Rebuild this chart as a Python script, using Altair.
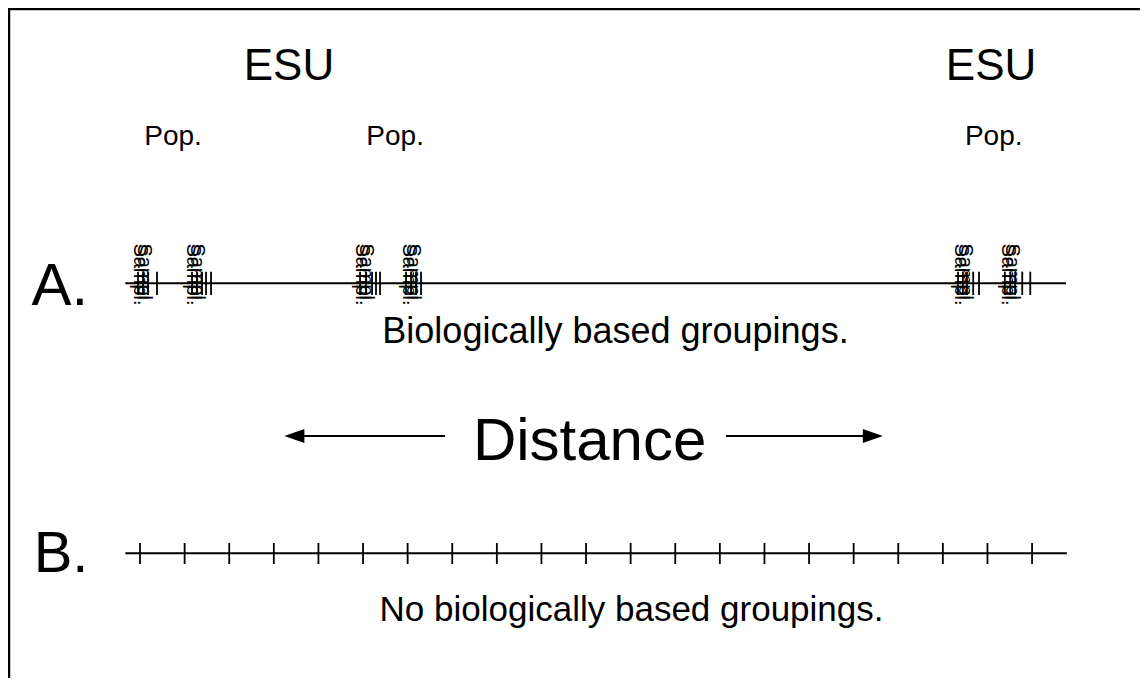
import altair as alt
import pandas as pd

W, H = 1132, 670
X_DOMAIN = [-2.96, 22.42]  # distance units (B ticks at 0..20)
Y_DOMAIN = [670, 0]        # vertical layout units, top = 0
FONT = "Liberation Sans"

# Horizontal lines A and B
line_names = ["A", "B"]
line_y = [275.3, 545.3]
line_x0 = [-0.33, -0.33]
line_x1 = [20.76, 20.78]

# Sample ticks on line A (clustered)
a_ticks_x = [-0.045, 0.067, 0.179, 0.381,
             1.166, 1.278, 1.390, 1.480, 1.592,
             4.933, 5.067, 5.202, 5.291, 5.381,
             5.964, 6.076, 6.188, 6.300,
             18.34, 18.45, 18.54, 18.68, 18.81,
             19.39, 19.51, 19.62, 19.78, 19.96]
a_tick_y = [263.7, 287.0]

# Sample labels on line A (overlapping labels in each cluster)
sampl_x = [0.00, 0.10, 1.19, 1.28, 4.98, 5.07, 6.03, 6.12,
           18.40, 18.49, 19.47, 19.56]
sampl_y = 266.5

# Evenly spaced ticks on line B
b_ticks_x = list(range(21))
b_tick_y = [535.0, 556.0]

# Text labels
label_text = ["ESU", "ESU", "Pop.", "Pop.", "Pop.", "A.",
              "Biologically based groupings.", "Distance", "B.",
              "No biologically based groupings."]
label_x = [3.34, 19.08, 0.74, 5.72, 19.14, -1.80, 10.66, 10.08, -1.77, 11.02]
label_y = [72, 72, 137, 137, 137, 297, 335, 452, 564, 613]
label_size = [44, 44, 28, 28, 28, 60, 36, 60, 58, 35]

# Distance arrows
arrow_x0 = [3.40, 13.14]
arrow_x1 = [6.84, 16.48]
arrow_y = 428
head_x = [3.46, 16.43]
head_shape = ["M -1 0 L 1 -0.7 L 1 0.7 Z", "M 1 0 L -1 -0.7 L -1 0.7 Z"]

# Frame (top and left edges)
frame_x0 = [-2.96, -2.938]
frame_x1 = [22.42, -2.938]
frame_y0 = [1, 0]
frame_y1 = [1, 670]

xs = alt.Scale(domain=X_DOMAIN, nice=False, zero=False)
ys = alt.Scale(domain=Y_DOMAIN, nice=False, zero=False)
NOAX = None

def X(f):
    return alt.X(f, type="quantitative", scale=xs, axis=NOAX)

def Y(f):
    return alt.Y(f, type="quantitative", scale=ys, axis=NOAX)

lines_df = pd.DataFrame({"name": line_names, "y": line_y, "x0": line_x0, "x1": line_x1})
lines = alt.Chart(lines_df).mark_rule(color="black", strokeWidth=2).encode(
    x=X("x0"), x2="x1", y=Y("y"))

a_df = pd.DataFrame({"x": a_ticks_x, "y0": a_tick_y[0], "y1": a_tick_y[1]})
a_ticks = alt.Chart(a_df).mark_rule(color="black", strokeWidth=1.8).encode(
    x=X("x"), y=Y("y0"), y2="y1")

b_df = pd.DataFrame({"x": b_ticks_x, "y0": b_tick_y[0], "y1": b_tick_y[1]})
b_ticks = alt.Chart(b_df).mark_rule(color="black", strokeWidth=1.8).encode(
    x=X("x"), y=Y("y0"), y2="y1")

s_df = pd.DataFrame({"x": sampl_x, "y": sampl_y, "t": "Sampl."})
sampl = alt.Chart(s_df).mark_text(angle=90, fontSize=20, font=FONT, color="black",
                                  align="center", baseline="middle").encode(
    x=X("x"), y=Y("y"), text="t:N")

l_df = pd.DataFrame({"t": label_text, "x": label_x, "y": label_y, "s": label_size})
labels = alt.Chart(l_df).mark_text(font=FONT, color="black", align="center",
                                   baseline="alphabetic").encode(
    x=X("x"), y=Y("y"), text="t:N", size=alt.Size("s:Q", scale=None, legend=None))

ar_df = pd.DataFrame({"x0": arrow_x0, "x1": arrow_x1, "y": arrow_y})
arrows = alt.Chart(ar_df).mark_rule(color="black", strokeWidth=1.8).encode(
    x=X("x0"), x2="x1", y=Y("y"))

heads = alt.layer(*[
    alt.Chart(pd.DataFrame({"x": [hx], "y": [arrow_y]})).mark_point(
        shape=sh, size=400, filled=True, color="black", opacity=1, strokeWidth=0).encode(
        x=X("x"), y=Y("y"))
    for hx, sh in zip(head_x, head_shape)
])

f_df = pd.DataFrame({"x0": frame_x0, "x1": frame_x1, "y0": frame_y0, "y1": frame_y1})
frame = alt.Chart(f_df).mark_rule(color="black", strokeWidth=2.5).encode(
    x=X("x0"), x2="x1", y=Y("y0"), y2="y1")

chart = alt.layer(frame, lines, a_ticks, b_ticks, sampl, labels, arrows, heads).properties(
    width=W, height=H,
    autosize=alt.AutoSizeParams(type="none"),
    padding=0,
).configure_view(stroke=None).configure(background="white")

chart.save("out.html", embed_options={"renderer": "svg", "actions": False})
